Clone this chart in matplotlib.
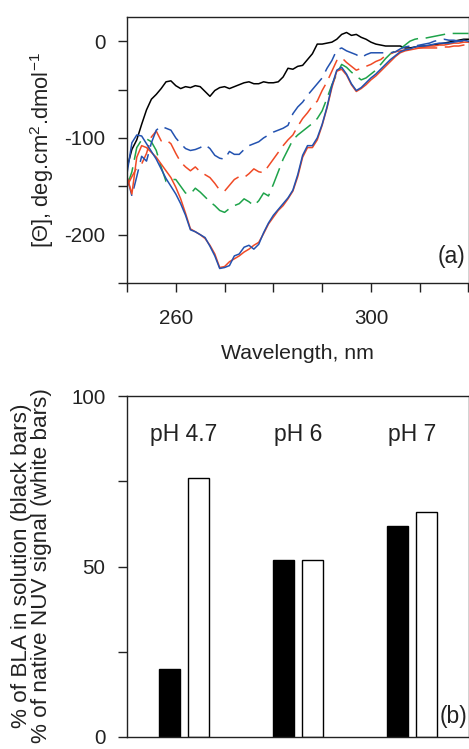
import numpy as np
import matplotlib
matplotlib.use("Agg")
import matplotlib.pyplot as plt

plt.rcParams['font.family'] = ['Liberation Sans', 'DejaVu Sans']

# (a) near-UV CD spectra, values every 1 nm
wavelength = list(range(250, 321))

black_solid = [-131, -112, -102, -86, -71, -60, -55, -49, -42, -41,
               -46, -49, -47, -48, -46, -47, -52, -57, -51, -48,
               -47, -49, -47, -45, -43, -42, -44, -44, -42, -43,
               -43, -42, -37, -28, -29, -26, -25, -19, -13, -3,
               -3, -2, -1, 2, 7, 9, 6, 7, 4, 2,
               -1, -3, -4, -5, -5, -5, -5, -7, -7, -6,
               -5, -5, -4.5, -3.5, -3, -2, -1, 0, 1, 2, 2]

blue_dashed = [-140, -160, -140, -119, -124, -105, -92, -88, -90, -92,
               -100, -106, -111, -113, -112, -110, -107, -111, -118, -121,
               -122, -114, -117, -117, -112, -108, -106, -104, -100, -97,
               -94, -92, -90, -87, -75, -68, -63, -56, -50, -44,
               -38, -28, -20, -9, -7, -10, -12, -14, -17, -14,
               -12, -12, -12, -12, -12, -11, -8, -6, -5, -5,
               -4, -3, -2, 0, 1, 2, 1, 1, 0, 0, 0]

red_dashed = [-150, -140, -131, -127, -116, -99, -93, -103, -102, -106,
              -116, -125, -130, -134, -130, -135, -138, -141, -147, -154,
              -155, -149, -143, -140, -141, -137, -132, -135, -136, -129,
              -122, -115, -108, -102, -97, -88, -80, -74, -67, -62,
              -51, -42, -31, -20, -17, -22, -26, -30, -28, -26,
              -24, -21, -19, -15, -13, -11, -10, -9, -8, -7,
              -7, -7, -7, -7, -7, -6, -6, -5, -5, -4, -4]

green_dashed = [-150, -135, -110, -102, -101, -104, -113, -130, -145, -143,
                -143, -150, -157, -158, -152, -156, -161, -166, -170, -175,
                -177, -173, -170, -168, -163, -166, -170, -165, -157, -160,
                -148, -135, -122, -112, -102, -97, -93, -89, -85, -80,
                -72, -59, -45, -34, -24, -27, -32, -36, -40, -38,
                -34, -30, -24, -18, -13, -10, -8, -4, 0, 2,
                3, 3, 4, 5, 6, 7, 8, 8, 8, 8, 8]

red_solid = [-140, -158, -120, -108, -110, -115, -120, -127, -134, -141,
             -151, -163, -178, -194, -197, -200, -204, -211, -220, -234,
             -233, -228, -225, -222, -218, -215, -211, -208, -199, -189,
             -182, -175, -170, -163, -155, -140, -120, -110, -110, -102,
             -87, -69, -48, -31, -29, -35, -45, -52, -49, -45,
             -40, -36, -31, -26, -21, -16, -12, -10, -9, -8,
             -7, -6, -5, -5, -4, -4, -3, -2, -2, -1, -1]

blue_solid = [-137, -105, -97, -98, -106, -114, -122, -132, -142, -150,
              -158, -168, -180, -195, -197, -200, -203, -212, -222, -235,
              -234, -232, -222, -220, -213, -211, -215, -210, -198, -188,
              -180, -174, -168, -162, -154, -138, -118, -108, -108, -100,
              -86, -68, -46, -30, -27, -34, -44, -51, -48, -43,
              -38, -34, -29, -24, -19, -15, -11, -9, -8, -6,
              -5, -5, -4, -3, -2, -2, -2, -1, 0, 1, 0]

# (b) bars
ph_labels = ['pH 4.7', 'pH 6', 'pH 7']
bla_solution = [20, 52, 62]     # black bars
nuv_signal = [76, 52, 66]       # white bars

BLUE = '#2352b0'
RED = '#f04a26'
GREEN = '#1ea34a'
dash = (0, (13, 5))

fig = plt.figure(figsize=(4.69, 7.49), dpi=100)

# ---------------- panel (a)
ax1 = fig.add_axes([127 / 469, 1 - 283 / 749, 341.5 / 469, 266 / 749])
ax1.plot(wavelength, black_solid, color='black', lw=1.1)
ax1.plot(wavelength, green_dashed, color=GREEN, lw=1.1, ls=dash)
ax1.plot(wavelength, red_dashed, color=RED, lw=1.1, ls=dash)
ax1.plot(wavelength, blue_dashed, color=BLUE, lw=1.1, ls=dash)
ax1.plot(wavelength, red_solid, color=RED, lw=1.1)
ax1.plot(wavelength, blue_solid, color=BLUE, lw=1.1)

ax1.set_xlim(250, 320)
ax1.set_ylim(-250, 25)
ax1.set_xticks(np.arange(250, 321, 10))
ax1.set_xticklabels(['' if t not in (260, 300) else str(t) for t in range(250, 321, 10)])
ax1.set_yticks(np.arange(-250, 1, 50))
ax1.set_yticklabels(['' if t % 100 else str(t) for t in range(-250, 1, 50)])
ax1.tick_params(direction='out', length=6.5, width=1, labelsize=14.8, colors='#222222')
ax1.tick_params(axis='x', pad=12.5)
ax1.tick_params(axis='y', pad=9)
ax1.set_xlabel('Wavelength, nm', fontsize=15.3, labelpad=11, color='#222222')
ax1.set_ylabel(r'[Θ], deg.cm$^{\mathregular{2}}$.dmol$^{\mathregular{-1}}$',
               fontsize=15.8, labelpad=6, color='#222222')
ax1.text(0.99, 0.098, '(a)', transform=ax1.transAxes, ha='right', va='center',
         fontsize=16.5, color='#222222')
for sp in ax1.spines.values():
    sp.set_linewidth(1.0)
    sp.set_color('#222222')

# ---------------- panel (b)
ax2 = fig.add_axes([127 / 469, 1 - 737 / 749, 342 / 469, 341 / 749])
pos = np.arange(1, len(ph_labels) + 1)
ax2.bar(pos - 0.125, bla_solution, width=0.18, color='black', edgecolor='black', lw=1)
ax2.bar(pos + 0.125, nuv_signal, width=0.18, color='white', edgecolor='black', lw=1)
for p, lab in zip(pos, ph_labels):
    ax2.text(p, 88.6, lab, ha='center', va='center', fontsize=16.5, color='#222222')

ax2.set_xlim(0.5, 3.5)
ax2.set_ylim(0, 100)
ax2.set_xticks([])
ax2.set_yticks([0, 25, 50, 75, 100])
ax2.set_yticklabels(['0', '', '50', '', '100'])
ax2.tick_params(direction='out', length=6.5, width=1, labelsize=14.8, pad=9, colors='#222222')
ax2.text(0.994, 0.059, '(b)', transform=ax2.transAxes, ha='right', va='center',
         fontsize=16.5, color='#222222')
for sp in ax2.spines.values():
    sp.set_linewidth(1.0)
    sp.set_color('#222222')

fig.text(22 / 469, 1 - 566 / 749, '% of BLA in solution (black bars)', rotation=90,
         ha='center', va='center', fontsize=16.2, color='#222222')
fig.text(42 / 469, 1 - 566 / 749, '% of native NUV signal (white bars)', rotation=90,
         ha='center', va='center', fontsize=16.2, color='#222222')

fig.savefig('out.png', dpi=100)
